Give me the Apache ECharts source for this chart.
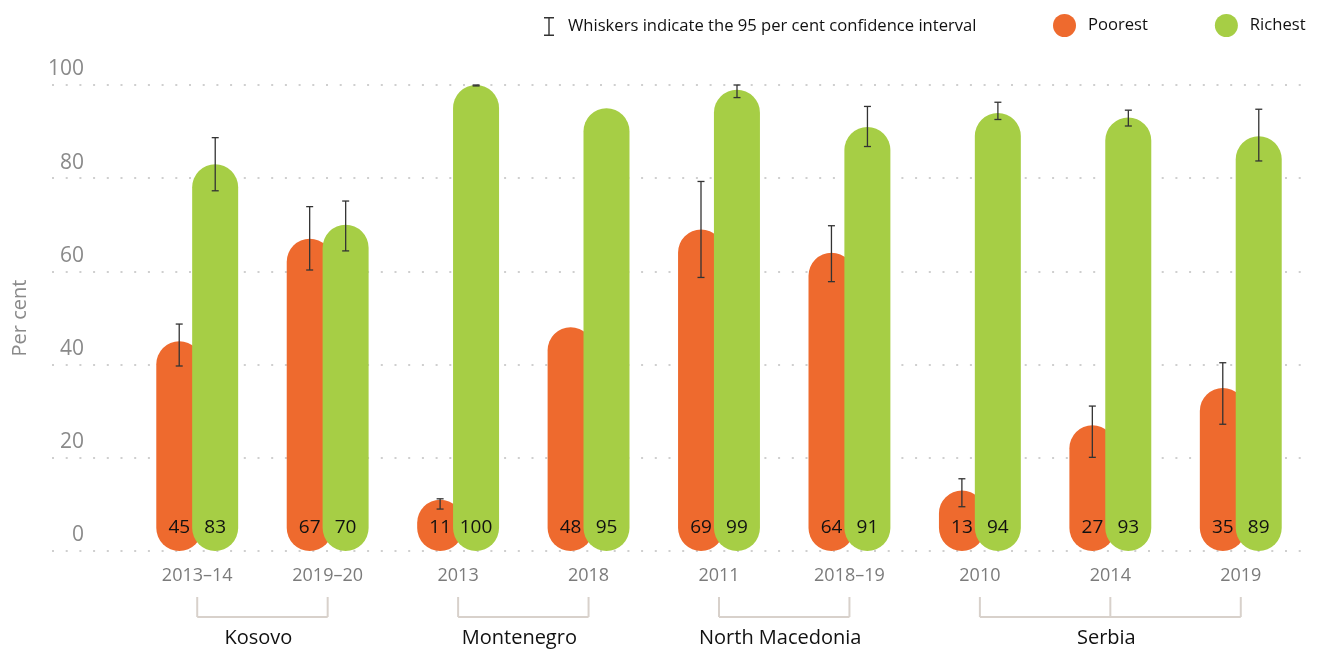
<!DOCTYPE html>
<html>
<head>
<meta charset="utf-8">
<script src="https://cdn.jsdelivr.net/npm/echarts@6/dist/echarts.min.js"></script>
<style>
  html, body { margin: 0; padding: 0; background: #fff; }
  #chart { width: 1319px; height: 651px; }
</style>
</head>
<body>
<div id="chart"></div>
<script>
// survey rounds on the x axis
const years = ['2013–14', '2019–20', '2013', '2018', '2011', '2018–19', '2010', '2014', '2019'];

// countries and which rounds they span (indexes into years)
const countries = ['Kosovo', 'Montenegro', 'North Macedonia', 'Serbia'];
const countryStart = [0, 2, 4, 6];
const countryEnd = [1, 3, 5, 8];

// per cent values
const poorest = [45, 67, 11, 48, 69, 64, 13, 27, 35];
const richest = [83, 70, 100, 95, 99, 91, 94, 93, 89];

// 95% confidence intervals (null = no whisker shown)
const poorLow = [39.7, 60.3, 9.0, null, 58.7, 57.8, 9.5, 20.1, 27.2];
const poorHigh = [48.7, 73.9, 11.2, null, 79.3, 69.8, 15.5, 31.1, 40.4];
const richLow = [77.3, 64.4, 99.8, null, 97.3, 86.8, 92.6, 91.2, 83.7];
const richHigh = [88.7, 75.1, 100, null, 100, 95.4, 96.3, 94.6, 94.8];

const yTicks = [0, 20, 40, 60, 80, 100];

const FONT = '"Open Sans", sans-serif';
const ORANGE = '#EE6A2E';
const GREEN = '#A6CE45';
const WHISKER = 'Whiskers indicate the 95 per cent confidence interval';
const BAR_OFFSET = 18;

const chart = echarts.init(document.getElementById('chart'));

const whiskerData = [];
poorLow.forEach((v, i) => { if (v != null) whiskerData.push([i, v, poorHigh[i], -1]); });
richLow.forEach((v, i) => { if (v != null) whiskerData.push([i, v, richHigh[i], 1]); });

const bracketData = countries.map((c, i) => [countryStart[i], countryEnd[i], i]);

const renderWhisker = (params, api) => {
  const cat = api.value(0);
  const lo = api.coord([cat, api.value(1)]);
  const hi = api.coord([cat, api.value(2)]);
  const x = lo[0] + api.value(3) * BAR_OFFSET;
  const style = { stroke: '#333', lineWidth: 1.3 };
  return {
    type: 'group',
    children: [
      { type: 'line', shape: { x1: x, y1: lo[1], x2: x, y2: hi[1] }, style },
      { type: 'line', shape: { x1: x - 3.5, y1: lo[1], x2: x + 3.5, y2: lo[1] }, style },
      { type: 'line', shape: { x1: x - 3.5, y1: hi[1], x2: x + 3.5, y2: hi[1] }, style }
    ]
  };
};

const renderBracket = (params, api) => {
  const from = api.value(0);
  const to = api.value(1);
  const base = api.coord([from, 0])[1];
  const x0 = api.coord([from, 0])[0];
  const x1 = api.coord([to, 0])[0];
  const style = { stroke: '#d8d1cb', lineWidth: 2 };
  const children = [
    { type: 'line', shape: { x1: x0, y1: base + 66, x2: x1, y2: base + 66 }, style }
  ];
  for (let k = from; k <= to; k++) {
    const x = api.coord([k, 0])[0];
    children.push({ type: 'line', shape: { x1: x, y1: base + 46, x2: x, y2: base + 66 }, style });
  }
  children.push({
    type: 'text',
    style: {
      text: countries[api.value(2)],
      x: (x0 + x1) / 2 - 4,
      y: base + 87,
      align: 'center',
      verticalAlign: 'middle',
      fontSize: 20,
      fontFamily: FONT,
      fill: '#111'
    }
  });
  return { type: 'group', children };
};

const option = {
  animation: false,
  textStyle: { fontFamily: FONT },
  legend: [
    {
      left: 539,
      top: 12,
      itemWidth: 10,
      itemHeight: 19,
      data: [{ name: WHISKER, icon: 'path://M0,0H10V1.5H5.7V17.5H10V19H0V17.5H4.3V1.5H0Z' }],
      textStyle: { fontSize: 16.6, color: '#111', fontFamily: FONT, padding: [0, 0, 0, 9] },
      selectedMode: false
    },
    {
      left: 1048,
      top: 9,
      itemWidth: 23,
      itemHeight: 23,
      itemGap: 67,
      icon: 'circle',
      data: ['Poorest', 'Richest'],
      textStyle: { fontSize: 16.6, color: '#111', fontFamily: FONT, padding: [0, 0, 0, 7] },
      selectedMode: false
    }
  ],
  grid: [
    { left: 52, right: 13, top: 85, bottom: 100 },
    { left: 132, right: 13, top: 85, bottom: 100 }
  ],
  xAxis: [
    { type: 'value', gridIndex: 0, show: false, min: 0, max: 1 },
    {
      type: 'category',
      gridIndex: 1,
      data: years,
      axisLine: { show: false },
      axisTick: { show: false },
      axisLabel: { fontSize: 18, color: '#7b7b7b', margin: 16, fontFamily: FONT }
    }
  ],
  yAxis: [
    {
      type: 'value',
      gridIndex: 0,
      min: 0,
      max: 100,
      interval: 20,
      name: 'Per cent',
      nameLocation: 'middle',
      nameGap: 22,
      nameTextStyle: { fontSize: 20, color: '#8a8a8a', fontFamily: FONT },
      axisLine: { show: false },
      axisTick: { show: false },
      axisLabel: {
        inside: true,
        margin: 32,
        align: 'right',
        verticalAlign: 'bottom',
        padding: [0, 0, 5, 0],
        fontSize: 21,
        color: '#8a8a8a',
        fontFamily: FONT,
        formatter: v => (yTicks.includes(v) ? String(v) : '')
      },
      splitLine: { lineStyle: { color: '#cfcfcf', width: 2, type: [2, 11.7] } }
    },
    { type: 'value', gridIndex: 1, min: 0, max: 100, show: false }
  ],
  series: [
    {
      name: 'Poorest',
      type: 'bar',
      xAxisIndex: 1,
      yAxisIndex: 1,
      data: poorest,
      barWidth: 46,
      barGap: '-22%',
      itemStyle: { color: ORANGE, borderRadius: 23 },
      label: {
        show: true,
        position: 'insideBottom',
        distance: 14,
        fontSize: 19,
        color: '#111',
        fontFamily: FONT
      }
    },
    {
      name: 'Richest',
      type: 'bar',
      xAxisIndex: 1,
      yAxisIndex: 1,
      data: richest,
      barWidth: 46,
      barGap: '-22%',
      itemStyle: { color: GREEN, borderRadius: 23 },
      label: {
        show: true,
        position: 'insideBottom',
        distance: 14,
        fontSize: 19,
        color: '#111',
        fontFamily: FONT
      }
    },
    {
      name: WHISKER,
      type: 'custom',
      xAxisIndex: 1,
      yAxisIndex: 1,
      itemStyle: { color: '#333' },
      z: 5,
      renderItem: renderWhisker,
      data: whiskerData
    },
    {
      name: 'brackets',
      type: 'custom',
      xAxisIndex: 1,
      yAxisIndex: 1,
      clip: false,
      silent: true,
      renderItem: renderBracket,
      data: bracketData
    }
  ]
};

chart.setOption(option);
</script>
</body>
</html>
